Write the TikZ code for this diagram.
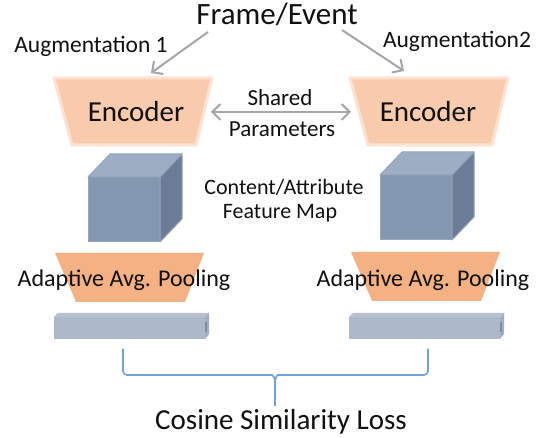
\documentclass[tikz,border=0pt]{standalone}
\usepackage{fontspec}
\setmainfont{Carlito}
\usetikzlibrary{arrows.meta}
\definecolor{encfill}{HTML}{F8CBAD}
\definecolor{encedge}{HTML}{FBE2D2}
\definecolor{poolfill}{HTML}{F4B183}
\definecolor{cubefront}{HTML}{8497B0}
\definecolor{cubetop}{HTML}{9DADC3}
\definecolor{cubeside}{HTML}{6B7C96}
\definecolor{cubeedge}{HTML}{95A5BB}
\definecolor{barfill}{HTML}{ADB9CA}
\definecolor{bartop}{HTML}{B7C2D1}
\definecolor{barside}{HTML}{A3AFC1}
\definecolor{barnotch}{HTML}{7F8CA0}
\definecolor{arrowgray}{HTML}{A6A6A6}
\definecolor{braceblue}{HTML}{6FA0D8}
\definecolor{txt}{HTML}{111111}
\tikzset{
  lbl/.style={inner sep=0pt, text=txt},
  fs/.style={font=\fontsize{#1}{#1}\selectfont},
  garrow/.style={draw=arrowgray, line width=2pt},
  gtip/.style={-{Straight Barb[length=8pt,width=16pt]}},
  bracestyle/.style={draw=braceblue, line width=1.6pt, rounded corners=4pt},
  encoder/.pic={
    \path[fill=encfill, draw=encedge, line width=3pt, line join=round]
      (0,0) -- (158,0) -- (142,67) -- (18,67) -- cycle;
  },
  pool/.pic={
    \path[fill=poolfill] (0,0) -- (149,0) -- (130,49) -- (21,49) -- cycle;
  },
  cube/.pic={
    \path[fill=cubefront, draw=cubeedge, line width=1pt, line join=round] (0,0) rectangle (72,65);
    \path[fill=cubetop, draw=cubeedge, line width=1pt, line join=round] (0,0) -- (22,-23) -- (94,-23) -- (72,0) -- cycle;
    \path[fill=cubeside, draw=cubeedge, line width=1pt, line join=round] (72,0) -- (94,-23) -- (94,42) -- (72,65) -- cycle;
  },
  bar/.pic={
    \path[fill=barfill] (0,4) rectangle (151,26);
    \path[fill=bartop] (0,4) -- (4,0) -- (155,0) -- (151,4) -- cycle;
    \path[fill=barside] (151,4) -- (155,0) -- (155,21) -- (151,26) -- cycle;
    \path[fill=barnotch] (151,9) rectangle (152.5,19);
  }
}
\begin{document}
\begin{tikzpicture}[x=1pt,y=-1pt]
\useasboundingbox[fill=white] (0,0) rectangle (542,438);

% shapes
\pic at (54,78) {encoder};
\pic at (350,78) {encoder};
\pic at (88,177) {cube};
\pic at (380,175) {cube};
\pic at (55,253) {pool};
\pic at (351,252) {pool};
\pic at (54,313) {bar};
\pic at (349,313) {bar};

% texts
\node[lbl, fs=31] (fe) at (277,14) {Frame/Event};
\node[lbl, fs=23.5] (aug1) at (91,46) {Augmentation 1};
\node[lbl, fs=23.5] (aug2) at (457,41) {Augmentation2};
\node[lbl, fs=29] (enc1) at (136,112) {Encoder};
\node[lbl, fs=29] (enc2) at (428,112) {Encoder};
\node[lbl, fs=23] (sh) at (280,98) {Shared};
\node[lbl, fs=23] (par) at (282,129) {Parameters};
\node[lbl, fs=22] (cam) at (284,187) {Content/Attribute};
\node[lbl, fs=22] (fm) at (280,213) {Feature Map};
\node[lbl, fs=24] (pool1) at (124,280) {Adaptive Avg. Pooling};
\node[lbl, fs=24] (pool2) at (423,280) {Adaptive Avg. Pooling};
\node[lbl, fs=29] (loss) at (281,422) {Cosine Similarity Loss};

% connector end points
\coordinate (a1s) at (208,32);
\coordinate (a1e) at (151,73);
\coordinate (a2s) at (342,30);
\coordinate (a2e) at (404,71);
\coordinate (spl) at (211,112);
\coordinate (spr) at (351,112);
\coordinate (b1) at (123,349);
\coordinate (b2) at (428,349);
\coordinate (btip) at (275,406);

\draw[garrow, gtip] (a1s) -- (a1e);
\draw[garrow, gtip] (a2s) -- (a2e);
\draw[garrow, {Straight Barb[length=8pt,width=16pt]}-{Straight Barb[length=8pt,width=16pt]}] (spl) -- (spr);

\draw[bracestyle] (b1) -- (123,375) -- (268,375) .. controls (273,375) and (275,378) .. (275,384) -- (btip);
\draw[bracestyle] (b2) -- (428,375) -- (282,375) .. controls (277,375) and (275,378) .. (275,384);
\end{tikzpicture}
\end{document}
